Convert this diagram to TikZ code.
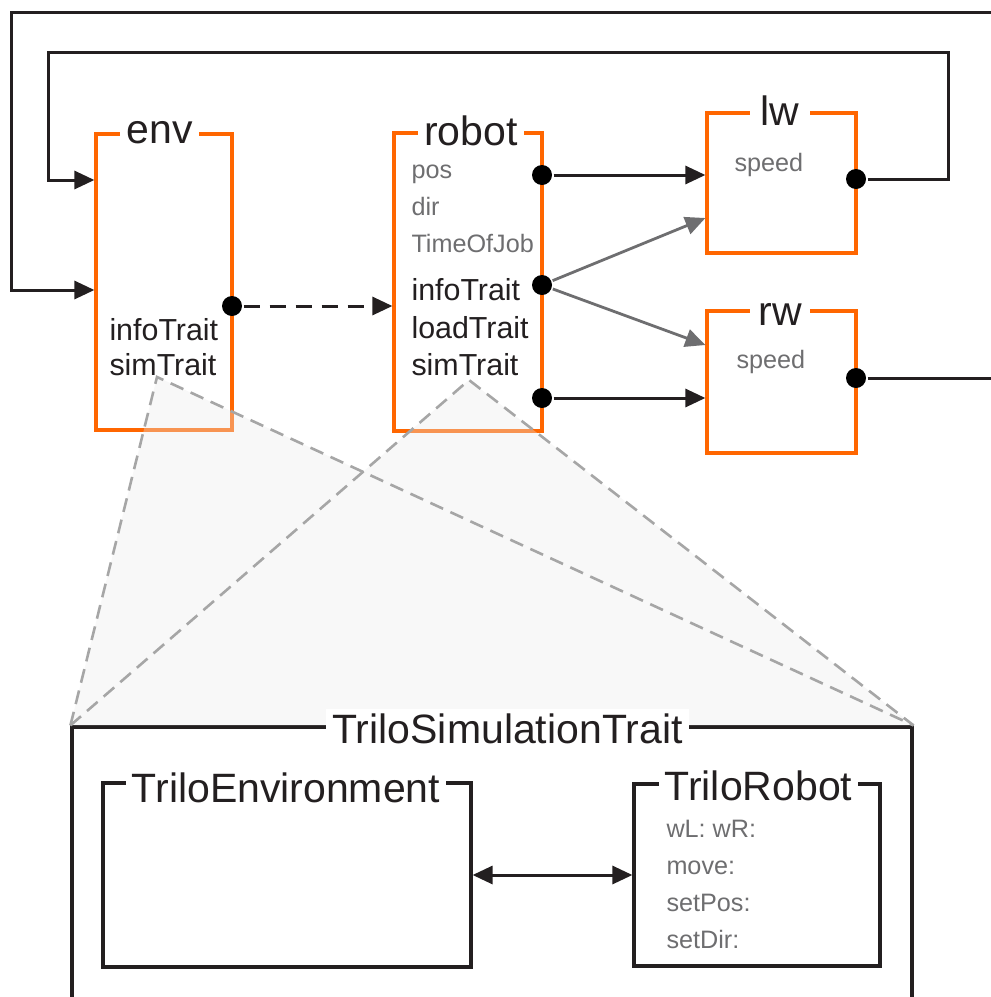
\documentclass[tikz,border=0pt]{standalone}
\usepackage{fontspec}
\setmainfont{Liberation Sans}
\usepackage{tikz}
\usetikzlibrary{arrows.meta,fit}

\definecolor{boxorange}{RGB}{255,102,0}
\definecolor{ink}{RGB}{35,31,32}
\definecolor{note}{RGB}{110,110,112}

\begin{document}
\begin{tikzpicture}[x=0.5pt,y=-0.5pt,line width=1.5pt,draw=ink,
    >={Triangle[length=10pt,width=9pt]},
    block/.style={draw=boxorange,line width=1.6pt,inner sep=0pt},
    frame/.style={draw=ink,line width=1.6pt,inner sep=0pt},
    title/.style={fill=white,anchor=base,inner xsep=3pt,inner ysep=2pt,text=ink,
      font=\fontsize{20.5pt}{24pt}\selectfont},
    trait/.style={anchor=base west,inner sep=0pt,text=ink,
      font=\fontsize{15.2pt}{18pt}\selectfont},
    field/.style={anchor=base west,inner sep=0pt,text=note,
      font=\fontsize{12.6pt}{15pt}\selectfont},
    dot/.style={circle,fill=black,inner sep=0pt,minimum size=10pt},
    zoomline/.style={draw=black!35,line width=1.3pt,dash pattern=on 7pt off 4pt}]
  \clip (0,0) rectangle (991,997);

  % top level blocks
  \node[block,fit={(96,134) (232,430)}] (env) {};
  \node[block,fit={(394,133) (542,431)}] (robot) {};
  \node[block,fit={(707,113) (856,253)}] (lw) {};
  \node[block,fit={(707,311) (856,453)}] (rw) {};
  \node[title] (envname) at (159.5,143) {env};
  \node[title] (robotname) at (471,145) {robot};
  \node[title,minimum width=30pt] (lwname) at (780,125) {lw};
  \node[title,minimum width=30pt] (rwname) at (780,325) {rw};

  \node[trait] (envinfo) at (108,340) {infoTrait};
  \node[trait] (envsim) at (108,375) {simTrait};
  \foreach \t/\y in {pos/178,dir/215,TimeOfJob/252}
    \node[field] (rob-\t) at (410,\y) {\t};
  \foreach \t/\y in {infoTrait/300,loadTrait/338,simTrait/375}
    \node[trait] (rob-\t) at (410,\y) {\t};
  \node[field] (lwspeed) at (733,171) {speed};
  \node[field] (rwspeed) at (735,368) {speed};

  % ports
  \node[dot] (envout) at (232,306) {};
  \node[dot] (robpos) at (542,175) {};
  \node[dot] (robinfo) at (542,285) {};
  \node[dot] (robsim) at (542,398) {};
  \node[dot] (lwout) at (856,179) {};
  \node[dot] (rwout) at (856,378) {};

  \draw[->,dashed,dash pattern=on 8pt off 5pt] (envout) -- (robot.west |- envout);
  \draw[->] (robpos) -- (lw.west |- robpos);
  \draw[->] (robsim) -- (rw.west |- robsim);
  \draw[->,draw=note,line width=1.4pt] (robinfo) -- (lw.west |- 0,218);
  \draw[->,draw=note,line width=1.4pt] (robinfo) -- (rw.west |- 0,345);
  \draw[->] (lwout) -| (948,52) -| (48,180) -- (env.west |- 0,180);
  \draw[->] (rwout) -| (1010,12) -| (11,290) -- (env.west |- 0,290);

  % simulation trait, zoomed out of both simTrait entries
  \node[frame,fit={(72,727) (912,1010)}] (sim) {};
  \coordinate (envzoom) at (157,377);
  \coordinate (robzoom) at (469,380);
  \fill[black!8,fill opacity=0.35]
    (envzoom) -- (sim.north west) -- (sim.north east) -- cycle
    (robzoom) -- (sim.north west) -- (sim.north east) -- cycle;
  \draw[zoomline] (sim.north west) -- (envzoom) -- (sim.north east);
  \draw[zoomline] (sim.north west) -- (robzoom) -- (sim.north east);
  \node[title] (simname) at (507.5,743) {TriloSimulationTrait};

  \node[frame,fit={(103,783) (471,967)}] (trenv) {};
  \node[frame,fit={(634,784) (880,966)}] (trrobot) {};
  \node[title] (trenvname) at (286,802) {TriloEnvironment};
  \node[title] (trrobotname) at (758.5,800) {TriloRobot};
  \foreach \t [count=\i] in {wL: wR:,move:,setPos:,setDir:}
    \node[field] (trf\i) at (665,800+37*\i) {\t};
  \draw[<->] (trenv) -- (trrobot);
\end{tikzpicture}
\end{document}
